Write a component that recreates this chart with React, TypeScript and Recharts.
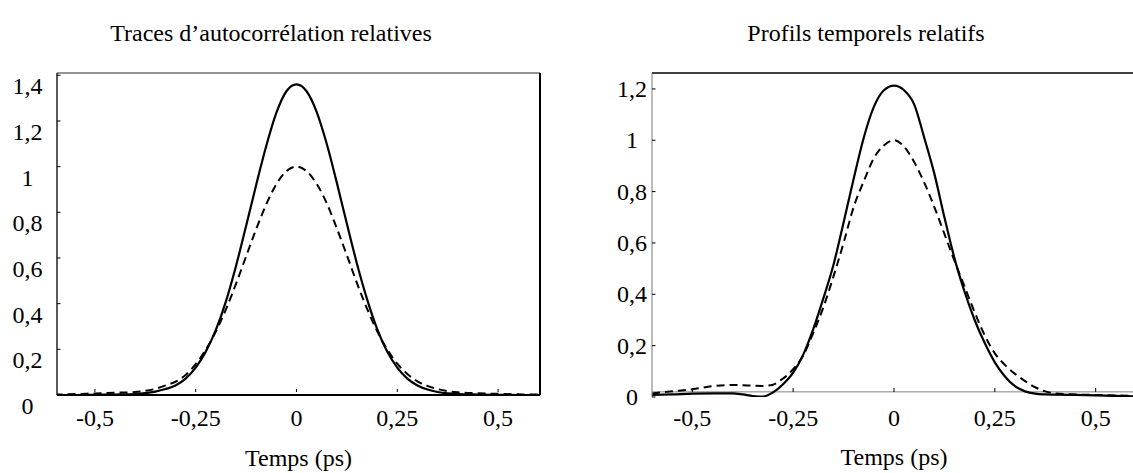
import React from "react";
import { LineChart, Line, XAxis, YAxis, ReferenceLine } from "recharts";

const FONT = '"Liberation Serif", "Times New Roman", serif';

// time axis (ps), shared by both panels
const times = [
  -0.6, -0.55, -0.5, -0.45, -0.4, -0.375, -0.35, -0.325, -0.3, -0.275, -0.25, -0.225, -0.2, -0.175,
  -0.15, -0.125, -0.1, -0.075, -0.05, -0.025, 0, 0.025, 0.05, 0.075, 0.1, 0.125, 0.15, 0.175, 0.2,
  0.225, 0.25, 0.275, 0.3, 0.325, 0.35, 0.375, 0.4, 0.45, 0.5, 0.55, 0.6,
];

// left panel: autocorrelation traces
const autoSolid = [
  0, 0, 0.001, 0.002, 0.004, 0.008, 0.015, 0.026, 0.042, 0.072, 0.12, 0.19, 0.285, 0.41,
  0.565, 0.74, 0.92, 1.09, 1.235, 1.33, 1.36, 1.33, 1.24, 1.1, 0.93, 0.75, 0.575, 0.42, 0.29,
  0.19, 0.12, 0.072, 0.042, 0.024, 0.013, 0.007, 0.004, 0.002, 0.001, 0, 0,
];
const autoDashed = [
  0.002, 0.004, 0.007, 0.01, 0.013, 0.018, 0.027, 0.042, 0.058, 0.088, 0.135, 0.198, 0.278, 0.375,
  0.487, 0.607, 0.726, 0.835, 0.923, 0.98, 1.0, 0.98, 0.925, 0.84, 0.73, 0.612, 0.49, 0.378, 0.28,
  0.2, 0.137, 0.092, 0.06, 0.04, 0.026, 0.017, 0.012, 0.008, 0.005, 0.003, 0.002,
];

// right panel: temporal profiles
const profileSolid = [
  0.008, 0.01, 0.013, 0.014, 0.014, 0.01, 0.004, 0.002, 0.018, 0.05, 0.095, 0.165, 0.265, 0.385,
  0.515, 0.68, 0.85, 1.01, 1.13, 1.195, 1.213, 1.195, 1.14, 1.01, 0.87, 0.7, 0.54, 0.41, 0.3,
  0.21, 0.135, 0.08, 0.042, 0.022, 0.013, 0.01, 0.009, 0.008, 0.006, 0.004, 0.002,
];
const profileDashed = [
  0.014, 0.022, 0.03, 0.042, 0.047, 0.046, 0.044, 0.043, 0.048, 0.072, 0.108, 0.162, 0.25, 0.35,
  0.47, 0.6, 0.74, 0.84, 0.93, 0.98, 1.0, 0.975, 0.915, 0.835, 0.74, 0.635, 0.53, 0.43, 0.33,
  0.24, 0.17, 0.125, 0.09, 0.062, 0.038, 0.022, 0.014, 0.01, 0.008, 0.006, 0.004,
];

const timeTicks = [-0.5, -0.25, 0, 0.25, 0.5];
const autoYTicks = [0, 0.2, 0.4, 0.6, 0.8, 1, 1.2, 1.4];
const profileYTicks = [0, 0.2, 0.4, 0.6, 0.8, 1, 1.2];

const autoData = times.map((t, i) => ({ t, solid: autoSolid[i], dashed: autoDashed[i] }));
const profileData = times.map((t, i) => ({ t, solid: profileSolid[i], dashed: profileDashed[i] }));

const fmt = (v: number) => String(v).replace(".", ",");

const textCss: React.CSSProperties = { fontFamily: FONT, fontSize: 24, fill: "#000" };

// small inward tick mark + label under the axis
const makeXTick = (markTop: number, markBottom: number, textDy: number) => (props: any) => {
  const { x, y, payload } = props;
  return (
    <g>
      <line x1={x} x2={x} y1={y - markTop} y2={y - markBottom} stroke="#000" strokeWidth={1} />
      <text x={x} y={y + textDy} textAnchor="middle" style={textCss}>
        {fmt(payload.value)}
      </text>
    </g>
  );
};

const makeYTick = (labelOffset: number, textDy: number) => (props: any) => {
  const { x, y, payload } = props;
  return (
    <g>
      <line x1={x} x2={x + 3.5} y1={y} y2={y} stroke="#000" strokeWidth={1} />
      <text x={x - labelOffset} y={y + textDy} textAnchor="middle" style={textCss}>
        {fmt(payload.value)}
      </text>
    </g>
  );
};

const titleStyle: React.CSSProperties = {
  position: "absolute",
  top: 21,
  fontFamily: FONT,
  fontSize: 24,
  lineHeight: "24px",
  textAlign: "center",
  color: "#000",
  whiteSpace: "nowrap",
};

const axisLabel = (offset: number) => ({
  value: "Temps (ps)",
  position: "insideBottom" as const,
  offset,
  fill: "#000",
  fontSize: 24,
  fontFamily: FONT,
  style: { fontFamily: FONT, fontSize: 24 },
});

export default function App() {
  return (
    <div
      style={{
        position: "absolute",
        left: 0,
        top: 0,
        width: 1133,
        height: 473,
        overflow: "hidden",
        background: "#fff",
      }}
    >
      <div style={{ ...titleStyle, left: 1, width: 540 }}>Traces d’autocorrélation relatives</div>
      <div style={{ ...titleStyle, left: 600, width: 532 }}>Profils temporels relatifs</div>

      {/* left panel */}
      <div style={{ position: "absolute", left: 0, top: 0 }}>
        <LineChart width={545} height={473} data={autoData} margin={{ top: 73, right: 5, bottom: 0, left: 0 }}>
          <XAxis
            type="number"
            dataKey="t"
            domain={[-0.594, 0.604]}
            allowDataOverflow
            ticks={timeTicks}
            interval={0}
            height={78}
            tickLine={false}
            tickSize={0}
            tickMargin={0}
            axisLine={{ stroke: "#000", strokeWidth: 2 }}
            tick={makeXTick(6, 3, 31)}
            label={axisLabel(7)}
          />
          <YAxis
            type="number"
            domain={[0, 1.41]}
            allowDataOverflow
            ticks={autoYTicks}
            interval={0}
            width={57}
            tickLine={false}
            tickSize={0}
            tickMargin={0}
            axisLine={{ stroke: "#000", strokeWidth: 1.3 }}
            tick={makeYTick(29.5, 19)}
          />
          <ReferenceLine y={1.41} stroke="#707070" strokeWidth={1.5} />
          <ReferenceLine x={0.604} stroke="#000" strokeWidth={2} />
          <Line type="monotone" dataKey="dashed" stroke="#000" strokeWidth={2} strokeDasharray="8 5" dot={false} isAnimationActive={false} />
          <Line type="monotone" dataKey="solid" stroke="#000" strokeWidth={2.2} dot={false} isAnimationActive={false} />
        </LineChart>
      </div>

      {/* right panel */}
      <div style={{ position: "absolute", left: 560, top: 0 }}>
        <LineChart width={580} height={473} data={profileData} margin={{ top: 73, right: 4, bottom: 0, left: 0 }}>
          <XAxis
            type="number"
            dataKey="t"
            domain={[-0.6, 0.6]}
            allowDataOverflow
            ticks={timeTicks}
            interval={0}
            height={76}
            tickLine={false}
            tickSize={0}
            tickMargin={0}
            axisLine={false}
            tick={makeXTick(9, 5, 29)}
            label={axisLabel(8)}
          />
          <YAxis
            type="number"
            domain={[0, 1.262]}
            allowDataOverflow
            ticks={profileYTicks}
            interval={0}
            width={92}
            tickLine={false}
            tickSize={0}
            tickMargin={0}
            axisLine={{ stroke: "#777", strokeWidth: 1 }}
            tick={makeYTick(20, 8)}
          />
          <ReferenceLine y={1.262} stroke="#000" strokeWidth={1.5} />
          <ReferenceLine y={0.02} stroke="#808080" strokeWidth={1} />
          <Line type="monotone" dataKey="dashed" stroke="#000" strokeWidth={2} strokeDasharray="8 5" dot={false} isAnimationActive={false} />
          <Line type="monotone" dataKey="solid" stroke="#000" strokeWidth={2.2} dot={false} isAnimationActive={false} />
        </LineChart>
      </div>
    </div>
  );
}
